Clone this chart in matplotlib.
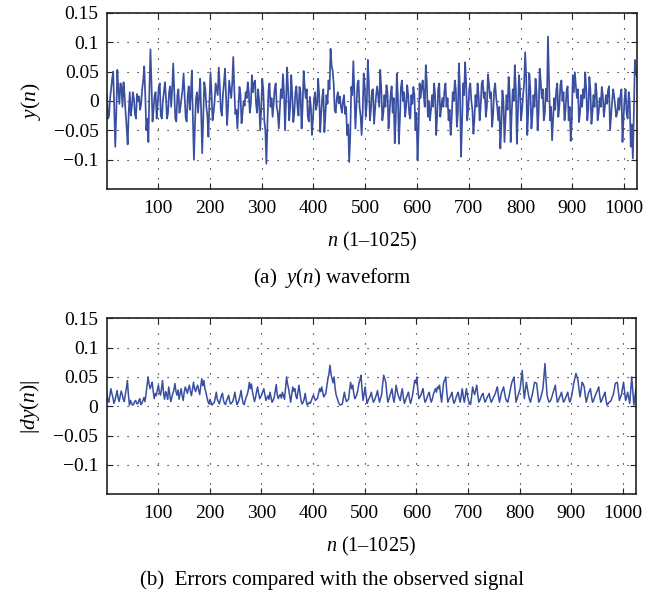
import numpy as np
import matplotlib
matplotlib.use("Agg")
import matplotlib.pyplot as plt

plt.rcParams["font.family"] = ["Liberation Serif", "DejaVu Serif"]
plt.rcParams["mathtext.fontset"] = "custom"
plt.rcParams["mathtext.rm"] = "Liberation Serif"
plt.rcParams["mathtext.it"] = "Liberation Serif:italic"

# values, in units of 0.001
# y_milli / dy_milli: samples n = 1, 5, 9, ..., 1025
# y_mid_milli / dy_mid_milli: the wiggles in between, n = 3, 7, ..., 1023
y_milli = [
    10, -25, 20, 50, -78, 53, -5, 25, 32, -20, -74, 15, -10, 5, -30, 0, -15, 20, 59, -50,
    -70, 88, -35, 10, -30, 24, -25, 0, 32, -30, 15, -10, 64, -30, 10, -20, 5, 47, -28, 10,
    -15, 52, -100, 5, -20, 38, -89, 32, -10, -61, 49, -33, 0, 20, 57, -16, 10, 55, -41, 35,
    5, 75, -22, -47, 24, -38, 0, 15, 32, -20, 44, 30, -5, 20, -50, 38, -33, -107, 18, -10,
    -27, 21, -10, -47, 20, 46, -50, 57, -33, 44, -36, 15, -10, 24, -47, 51, 5, -27, 7, -58,
    2, -15, 38, -53, 7, -53, 10, 35, 89, 52, -16, 5, -4, -10, 0, -22, -58, -104, 24, 68,
    -47, 29, -10, -58, 47, -27, 70, -33, 18, -39, 10, 7, 53, -33, 10, 27, -47, 10, -20, -72,
    47, -73, 24, 0, -27, 27, -22, 10, 24, -50, -101, 30, 24, 10, 61, -27, -33, 10, 30, -58,
    21, -27, 5, 18, -10, -33, -58, 15, 35, -44, 64, -95, 30, 66, -33, 21, 0, -56, 10, 30,
    -33, 30, 5, -27, 45, 5, -44, 18, 5, -33, -81, 18, -70, 10, 41, -70, 20, 61, -73, 44,
    -33, 10, 83, -58, 47, -47, 10, 38, -50, 55, 5, -33, 21, 110, -33, -67, 5, 18, -27, 27,
    0, -33, 18, -33, -68, 44, 49, 5, -36, 10, 20, 49, -33, 41, -39, 10, 30, -33, 5, 24,
    -27, 10, 18, -50, 0, 7, -27, 5, 10, -70, 4, -22, 15, -78, -98, 70, 40,
]

y_mid_milli = [
    -30, 5, 38, -10, -20, 20, 30, -10, 10, -45, -20, -25, 15, -22, 12, 8, -5, 35, 10, -30,
    20, 30, -15, 15, -5, 30, -30, 15, 5, -20, 25, 20, 15, -35, 20, -10, 20, 10, -35, 25,
    10, -30, -40, 15, 5, -20, -30, 20, -25, 0, 15, -20, 30, 10, 25, -25, 30, 10, -10, 20,
    30, 20, -15, -10, 10, -20, -8, 5, 15, -5, 15, 35, -20, 0, -15, 20, -50, -40, 30, 5,
    -5, 30, -20, -15, 5, 15, 0, 20, -10, 10, -20, 25, -25, 15, -10, 25, 20, -35, -10, -30,
    15, -5, 10, -20, 20, -25, -5, 20, 60, 30, -20, 15, 8, -20, 10, -10, -40, -60, 10, 15,
    -10, 35, -25, -20, 25, -5, 30, -15, 20, -15, 25, -10, 20, -20, -10, 15, -20, 25, 5, -30,
    10, -30, 35, 15, -10, 10, -30, -5, 10, -20, -50, 5, 35, -10, 30, 0, -15, -10, 10, -25,
    30, -10, -10, 30, 5, -15, -30, 0, 20, -20, 20, -40, 10, 30, -15, 30, -15, -30, -10, 10,
    -10, 35, 15, -10, 30, 15, -25, 30, -10, -10, -40, 0, -30, -15, 15, -20, 0, 20, -20, 20,
    -15, 30, 40, -20, 20, -25, -10, 15, -20, 35, 20, -20, 0, 40, -10, -30, -15, 30, -10, 35,
    15, -15, 25, -10, -35, 15, 25, 20, -20, -10, 5, 20, -15, 20, -20, -10, 15, -20, -10, 10,
    -10, -5, 25, -25, 20, -10, -20, -15, 20, -30, 20, -30, 0, -40, -20, 50,
]

dy_milli = [
    19, 7, 30, 15, 10, 27, 8, 26, 12, 20, 44, 2, 6, 3, 10, 4, 13, 5, 15, 20,
    50, 30, 41, 13, 18, 36, 19, 44, 12, 20, 33, 8, 22, 39, 19, 12, 30, 10, 33, 22,
    36, 18, 41, 25, 36, 20, 47, 44, 24, 8, 12, 2, 6, 24, 8, 12, 22, 5, 10, 19,
    4, 9, 24, 3, 11, 27, 5, 10, 20, 41, 38, 16, 15, 33, 13, 20, 30, 10, 18, 24,
    7, 15, 37, 13, 20, 24, 12, 50, 30, 7, 33, 30, 13, 36, 10, 7, 22, 2, 7, 10,
    19, 10, 14, 30, 33, 16, 22, 47, 70, 47, 50, 19, 8, 2, 4, 24, 8, 12, 41, 36,
    13, 20, 39, 53, 10, 33, 5, 14, 24, 7, 15, 27, 7, 20, 53, 41, 7, 18, 30, 7,
    36, 19, 10, 30, 5, 15, 24, 5, 20, 44, 50, 13, 19, 30, 7, 15, 24, 7, 20, 30,
    33, 36, 7, 41, 50, 7, 15, 24, 5, 15, 24, 7, 30, 7, 30, 10, 3, 33, 20, 36,
    7, 15, 22, 7, 15, 22, 7, 15, 22, 33, 7, 24, 33, 13, 7, 24, 41, 50, 7, 19,
    30, 61, 13, 41, 20, 7, 22, 41, 39, 7, 15, 30, 73, 19, 7, 12, 24, 36, 7, 15,
    24, 7, 15, 24, 7, 19, 41, 56, 44, 16, 41, 33, 7, 22, 30, 7, 15, 24, 33, 7,
    15, 24, 2, 7, 10, 19, 39, 41, 10, 20, 41, 10, 24, 5, 50, 2, 30,
]

dy_mid_milli = [
    12, 18, 22, 5, 18, 15, 17, 20, 8, 30, 20, 10, 2, 8, 5, 9, 3, 10, 8, 35,
    38, 35, 25, 22, 28, 24, 30, 22, 25, 12, 20, 15, 28, 25, 28, 22, 18, 24, 28, 30,
    25, 30, 30, 32, 27, 35, 35, 30, 15, 4, 6, 5, 14, 12, 4, 18, 10, 3, 14, 8,
    6, 15, 12, 6, 18, 14, 3, 16, 28, 30, 25, 8, 25, 22, 16, 25, 20, 14, 12, 15,
    10, 25, 20, 18, 14, 18, 30, 38, 18, 20, 26, 18, 24, 22, 4, 12, 10, 4, 5, 15,
    14, 12, 22, 25, 24, 19, 35, 55, 55, 40, 30, 14, 4, 3, 15, 14, 10, 28, 30, 22,
    16, 28, 45, 30, 22, 18, 10, 18, 14, 10, 20, 15, 14, 38, 47, 22, 12, 24, 15, 20,
    26, 14, 22, 15, 10, 20, 12, 12, 32, 40, 28, 16, 25, 16, 10, 20, 14, 12, 25, 24,
    30, 20, 25, 45, 25, 12, 19, 12, 9, 20, 14, 18, 16, 18, 18, 6, 16, 25, 28, 20,
    10, 19, 14, 10, 18, 13, 10, 18, 28, 18, 15, 28, 22, 9, 15, 33, 45, 28, 13, 24,
    45, 35, 27, 30, 12, 15, 32, 40, 22, 10, 22, 50, 45, 12, 9, 18, 30, 20, 10, 19,
    14, 10, 19, 14, 12, 30, 48, 50, 28, 28, 38, 18, 14, 26, 17, 10, 20, 28, 18, 10,
    19, 12, 4, 8, 15, 28, 40, 25, 15, 30, 25, 16, 14, 28, 25, 16,
]

x_ticks = [100, 200, 300, 400, 500, 600, 700, 800, 900, 1000]
y_ticks = [-0.1, -0.05, 0, 0.05, 0.1, 0.15]
y_tick_labels = ["\u22120.1", "\u22120.05", "0", "0.05", "0.1", "0.15"]


def merge(main, mid):
    n_main = np.linspace(1, 1025, len(main))
    n_mid = n_main[:len(mid)] + 2
    n = np.concatenate([n_main, n_mid])
    v = np.concatenate([main, mid]) / 1000
    order = np.argsort(n)
    return n[order], v[order]


n_y, y = merge(y_milli, y_mid_milli)
n_dy, dy = merge(dy_milli, dy_mid_milli)

line_color = "#3a4fa0"

fig = plt.figure(figsize=(6.64, 5.99), dpi=100)
ax1 = fig.add_axes([0.1611, 0.6845, 0.7982, 0.2938])
ax2 = fig.add_axes([0.1607, 0.1748, 0.7970, 0.2938])


def style_axes(ax, ylabel):
    ax.set_xlim(1, 1025)
    ax.set_ylim(-0.15, 0.15)
    ax.set_xticks(x_ticks)
    ax.set_yticks(y_ticks)
    ax.set_yticklabels(y_tick_labels)
    ax.tick_params(direction="in", length=4, width=0.8, top=True, right=True,
                   labelsize=14, color="#222222")
    ax.tick_params(axis="x", pad=8)
    ax.tick_params(axis="y", pad=6)
    ax.grid(True, color="black", linestyle=(0, (1, 8)), linewidth=0.8)
    for s in ax.spines.values():
        s.set_color("#222222")
        s.set_linewidth(1.2)
    ax.set_xlabel("$n$ (1\u20131025)", fontsize=14.5, labelpad=9)
    ax.set_ylabel(ylabel, fontsize=15.5, labelpad=8)


ax1.plot(n_y, y, color=line_color, linewidth=1.25)
style_axes(ax1, "$y(n)$")

ax2.plot(n_dy, dy, color=line_color, linewidth=1.1)
style_axes(ax2, "$|dy(n)|$")

fig.text(0.5, 1 - 278 / 599, "(a)  $y(n)$ waveform", ha="center", va="center", fontsize=15)
fig.text(0.5, 1 - 580 / 599, "(b)  Errors compared with the observed signal",
         ha="center", va="center", fontsize=15)

fig.savefig("out.png", dpi=100)
